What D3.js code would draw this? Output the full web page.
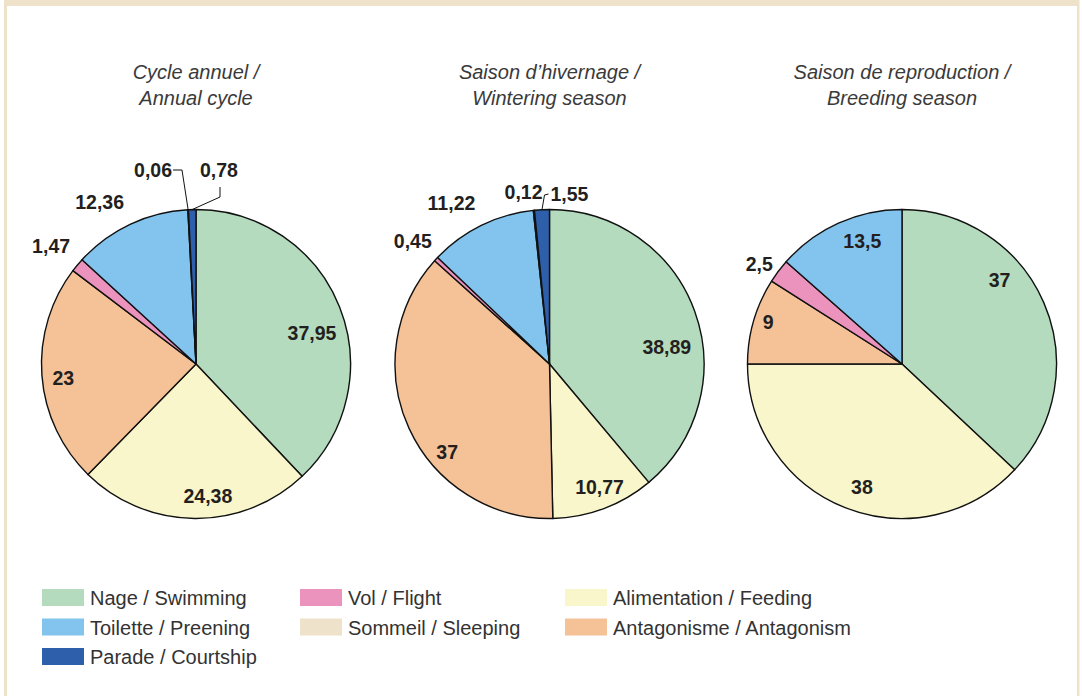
<!DOCTYPE html>
<html>
<head>
<meta charset="utf-8">
<script src="https://cdn.jsdelivr.net/npm/d3@7"></script>
<style>
    body { margin: 0; background: #fff; }
    #example { width: 1082px; height: 696px; }
    .title { font-family: "Liberation Sans", Arial, sans-serif; font-style: italic; font-size: 20px; fill: #3a3a3a; }
    .value { font-family: "Liberation Sans", Arial, sans-serif; font-weight: bold; font-size: 19.5px; fill: #231f20; }
    .legend text { font-family: "Liberation Sans", Arial, sans-serif; font-size: 20px; fill: #333; }
</style>
</head>
<body>
<div id="example"></div>
<script>
// categories in pie order (clockwise from 12 o'clock)
var categories = ["Nage / Swimming", "Alimentation / Feeding", "Antagonisme / Antagonism", "Vol / Flight",
    "Toilette / Preening", "Sommeil / Sleeping", "Parade / Courtship"];
var colors = ["#b4dbbd", "#f8f6ca", "#f5c297", "#eb93bd", "#83c4ee", "#efe2cb", "#2e5fab"];

var annualValues = [37.95, 24.38, 23, 1.47, 12.36, 0.06, 0.78];
var winteringValues = [38.89, 10.77, 37, 0.45, 11.22, 0.12, 1.55];
var breedingValues = [37, 38, 9, 2.5, 13.5, 0, 0];

var titles = [
    ["Cycle annuel /", "Annual cycle"],
    ["Saison d\u2019hivernage /", "Wintering season"],
    ["Saison de reproduction /", "Breeding season"]
];

// legend, row by row in 3 columns
var legendOrder = ["Nage / Swimming", "Vol / Flight", "Alimentation / Feeding",
    "Toilette / Preening", "Sommeil / Sleeping", "Antagonisme / Antagonism",
    "Parade / Courtship"];

// label layout tweaks (px) per pie: category index -> [dx, dy]
var labelNudge = [
    {0: [-3, 16], 1: [13, 4], 2: [-5, 5], 3: [-4, 0], 4: [-18, 4]},
    {0: [-3, 27], 1: [5, 3], 2: [14, 35], 3: [-2, 2], 4: [-17, 4]},
    {0: [-20, -33], 1: [7, 4], 2: [-11, -6], 3: [4, 10], 4: [13, -6]}
];
var outsideLabels = [[3, 4], [3, 4], [3]];
// small slices with leader lines: offsets from pie centre
var leaderLabels = [
    [{cat: 5, dx: -24, dy: -194, anchor: "end", elbow: [[-14, -194], [-23, -194]], lead: true},
     {cat: 6, dx: 4, dy: -194, anchor: "start", elbow: [[24, -167], [24, -177]], lead: true}],
    [{cat: 5, dx: -7, dy: -172, anchor: "end", lead: false},
     {cat: 6, dx: 1, dy: -170, anchor: "start", elbow: [[-5, -169], [-1, -170]], lead: true}],
    []
];

function pieCharts(options) {
    var svg = d3.select(options.container).append("svg")
        .attr("width", options.width)
        .attr("height", options.height);

    // beige frame
    svg.append("rect").attr("x", 4).attr("y", 0).attr("width", 1075.5).attr("height", options.height)
        .attr("fill", "#efe2cb");
    svg.append("rect").attr("x", 7).attr("y", 6).attr("width", 1070).attr("height", options.height)
        .attr("fill", "#fff");

    var x = d3.scalePoint().domain([0, 1, 2]).range([196, 902]);
    var color = d3.scaleOrdinal().domain(categories).range(colors);
    var fmt = function (v) { return String(v).replace(".", ","); };
    var pie = d3.pie().sort(null).value(function (d) { return d; });
    var arc = d3.arc().innerRadius(0).outerRadius(options.radius);

    function polar(a, r) {
        return [r * Math.sin(a), -r * Math.cos(a)];
    }

    options.data.forEach(function (values, p) {
        var cx = x(p) + (p == 1 ? 0.5 : 0), cy = options.cy;
        var g = svg.append("g").attr("transform", "translate(" + cx + "," + cy + ")");

        g.selectAll("text.title").data(titles[p]).enter().append("text")
            .attr("class", "title")
            .attr("text-anchor", "middle")
            .attr("y", function (d, i) { return -285 + i * 26; })
            .text(function (d) { return d; });

        var arcs = pie(values).map(function (d, i) { d.cat = i; return d; })
            .filter(function (d) { return d.value > 0; });

        g.selectAll("path").data(arcs).enter().append("path")
            .attr("d", arc)
            .attr("fill", function (d) { return color(categories[d.cat]); })
            .attr("stroke", "#111")
            .attr("stroke-width", 1.4)
            .attr("stroke-linejoin", "round");

        var leaderCats = leaderLabels[p].map(function (l) { return l.cat; });
        g.selectAll("text.value").data(arcs.filter(function (d) { return leaderCats.indexOf(d.cat) < 0; }))
            .enter().append("text")
            .attr("class", "value")
            .attr("text-anchor", "middle")
            .attr("dy", "0.36em")
            .attr("transform", function (d) {
                var mid = (d.startAngle + d.endAngle) / 2;
                var r = outsideLabels[p].indexOf(d.cat) >= 0 ? options.radius + 29 : 128;
                var pt = polar(mid, r), n = labelNudge[p][d.cat] || [0, 0];
                return "translate(" + (pt[0] + n[0]) + "," + (pt[1] + n[1]) + ")";
            })
            .text(function (d) { return fmt(d.value); });

        leaderLabels[p].forEach(function (l) {
            var d = arcs.filter(function (a) { return a.cat == l.cat; })[0];
            g.append("text")
                .attr("class", "value")
                .attr("text-anchor", l.anchor)
                .attr("x", l.dx).attr("y", l.dy)
                .attr("dy", "0.36em")
                .text(fmt(d.value));
            if (l.lead) {
                var edge = polar((d.startAngle + d.endAngle) / 2, options.radius);
                var pts = [edge].concat(l.elbow);
                g.append("path")
                    .attr("d", d3.line()(pts))
                    .attr("fill", "none")
                    .attr("stroke", "#111")
                    .attr("stroke-width", 1);
            }
        });
    });

    // legend
    var legend = svg.append("g").attr("class", "legend");
    var colX = [42, 300, 565];
    var item = legend.selectAll("g").data(legendOrder).enter().append("g")
        .attr("transform", function (d, i) {
            return "translate(" + colX[i % 3] + "," + (589 + Math.floor(i / 3) * 29.5) + ")";
        });
    item.append("rect").attr("width", 42).attr("height", 17)
        .attr("fill", function (d) { return color(d); });
    item.append("text").attr("x", 48).attr("y", 16).text(function (d) { return d; });
}

pieCharts({
    container: "#example",
    width: 1082,
    height: 696,
    cy: 364,
    radius: 154.5,
    data: [annualValues, winteringValues, breedingValues]
});
</script>
</body>
</html>
